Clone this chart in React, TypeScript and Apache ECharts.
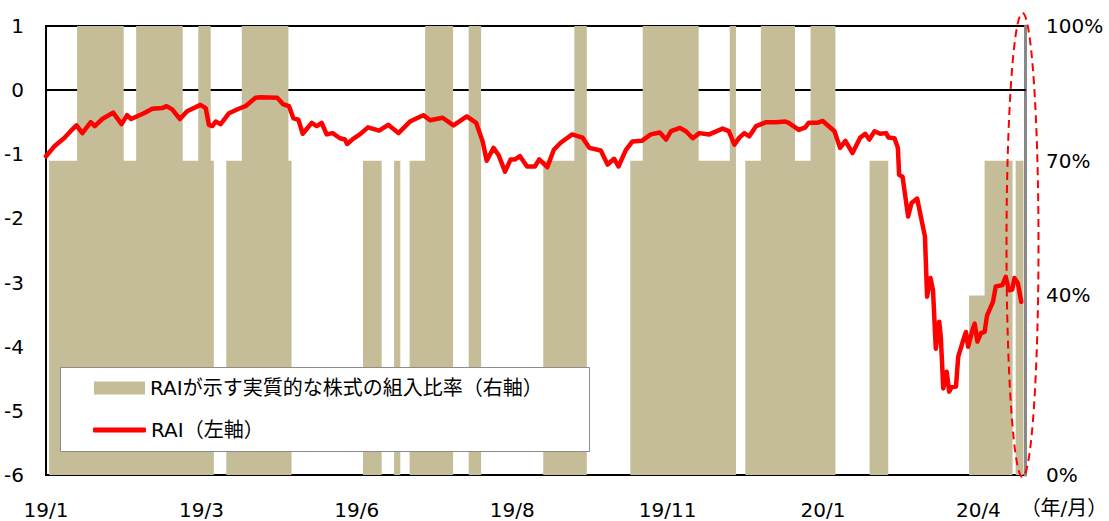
import React, { useEffect, useRef } from "react";
import * as echarts from "echarts";

// ---- Data ----
const xTickLabels = ["19/1", "19/3", "19/6", "19/8", "19/11", "20/1", "20/4"];
const xTickStep = 50; // business days between labels
const xMax = 315; // number of business days shown
const xUnitLabel = "（年/月）";

const leftMin = -6;
const leftMax = 1;
const rightTicks = [0, 40, 70, 100];

// stock allocation (%), right axis: value holds from each start index to the next
const allocStart = [0, 1, 10, 25, 29, 44, 49, 53, 54, 58, 63, 78, 79, 102, 108, 112, 114, 117, 122, 131, 136, 140, 160, 170, 174, 188, 192, 210, 220, 222, 225, 230, 241, 246, 254, 265, 271, 297, 302, 311, 312, 314.5];
const allocValue = [0, 70, 100, 70, 100, 70, 100, 70, 0, 70, 100, 70, 0, 70, 0, 70, 0, 70, 100, 0, 100, 0, 70, 100, 0, 70, 100, 70, 100, 0, 70, 100, 70, 100, 0, 70, 0, 40, 70, 0, 70, 0];

// RAI, left axis (x = business-day index)
const raiX = [0, 2.6, 5.8, 7.9, 9.8, 11.7, 14.4, 15.7, 18.1, 21.6, 24.3, 26.1, 27.4, 31.5, 34.2, 37.4, 38.8, 40.6, 43.1, 45.4, 49.7, 51.4, 52.4, 53.5, 54.6, 56.2, 58.9, 62.0, 64.2, 67.4, 69.1, 74.4, 76.3, 78.2, 79.6, 81.2, 82.6, 85.5, 87.1, 88.7, 90.3, 92.2, 94.6, 96.2, 96.9, 98.8, 101, 103.6, 107.2, 110.1, 113.4, 117.1, 121.4, 123.6, 127.6, 131.1, 135.4, 138.4, 140.5, 141.8, 144, 145.6, 147.7, 149.5, 150.9, 152.5, 154.8, 157.3, 158.7, 161.3, 163.4, 165.6, 169.3, 172.6, 174.8, 178.5, 180.7, 182.8, 184.2, 186.6, 188.7, 191.7, 194.6, 197.5, 199.5, 201.1, 204, 205.9, 208.1, 210.2, 213.4, 217.7, 219.7, 221.5, 223.1, 224.7, 226.3, 228.5, 231.7, 234.9, 237.9, 239, 242.2, 244.3, 245.4, 248.1, 249.9, 251.3, 253.7, 255.5, 257.2, 259.5, 262, 263.6, 264.9, 266.6, 268.4, 270.3, 271.1, 273, 274.1, 274.5, 275.6, 277.4, 278.5, 280.3, 281.7, 282.8, 283.5, 284.6, 285.4, 286.3, 287.4, 287.9, 288.7, 289.8, 290.6, 291.4, 292.8, 293.5, 295.1, 296, 296.7, 298.1, 298.8, 299.7, 300.8, 302, 302.8, 304.7, 305.6, 307.7, 308.8, 309.8, 310.9, 311.6, 312.7, 313.8];
const raiY = [-1.03, -0.88, -0.75, -0.64, -0.55, -0.67, -0.5, -0.56, -0.45, -0.35, -0.53, -0.39, -0.45, -0.36, -0.29, -0.28, -0.25, -0.3, -0.45, -0.33, -0.23, -0.28, -0.54, -0.56, -0.49, -0.53, -0.36, -0.29, -0.25, -0.12, -0.11, -0.12, -0.22, -0.25, -0.44, -0.46, -0.68, -0.51, -0.56, -0.51, -0.69, -0.67, -0.75, -0.77, -0.84, -0.76, -0.69, -0.58, -0.63, -0.54, -0.67, -0.49, -0.39, -0.47, -0.43, -0.55, -0.41, -0.51, -0.8, -1.1, -0.9, -1.01, -1.27, -1.08, -1.08, -1.03, -1.19, -1.19, -1.08, -1.2, -0.93, -0.82, -0.69, -0.74, -0.9, -0.94, -1.16, -1.07, -1.19, -0.93, -0.8, -0.79, -0.69, -0.66, -0.77, -0.64, -0.59, -0.64, -0.75, -0.67, -0.69, -0.6, -0.64, -0.85, -0.74, -0.67, -0.72, -0.56, -0.5, -0.5, -0.49, -0.51, -0.62, -0.58, -0.51, -0.51, -0.48, -0.54, -0.64, -0.9, -0.79, -0.98, -0.74, -0.68, -0.77, -0.64, -0.68, -0.67, -0.74, -0.75, -0.9, -1.32, -1.35, -1.97, -1.76, -1.69, -2.02, -2.28, -3.22, -2.93, -3.12, -4.03, -3.61, -3.84, -4.65, -4.39, -4.7, -4.63, -4.62, -4.16, -3.9, -3.77, -4.0, -3.74, -3.64, -3.92, -3.79, -3.77, -3.51, -3.3, -3.06, -3.04, -2.91, -3.12, -3.11, -2.93, -3.01, -3.3];

const allocName = "RAIが示す実質的な株式の組入比率（右軸）";
const raiName = "RAI（左軸）";

const TAN = "#C4BD97";
const RED = "#FF0000";
const FONT = "'DejaVu Sans', 'Noto Sans CJK JP', sans-serif";

export default function App() {
  const ref = useRef<HTMLDivElement>(null);

  useEffect(() => {
    if (!ref.current) return;
    const chart = echarts.init(ref.current, null, { renderer: "svg" });

    const allocData = allocStart.map((s, i) => [s, allocValue[i]]);
    allocData.push([xMax, allocValue[allocValue.length - 1]]);
    const raiData = raiX.map((x, i) => [x, raiY[i]]);

    const option: any = {
      animation: false,
      textStyle: { fontFamily: FONT, color: "#000" },
      grid: {
        left: 46,
        right: 84,
        top: 26,
        bottom: 46,
        show: true,
        borderColor: "#000",
        borderWidth: 2,
        backgroundColor: "transparent",
      },
      xAxis: {
        type: "value",
        min: 0,
        max: xMax,
        interval: xTickStep,
        axisLine: { show: true, lineStyle: { color: "#000", width: 2 } },
        axisTick: { show: false },
        splitLine: { show: false },
        axisLabel: {
          fontSize: 20,
          color: "#000",
          fontFamily: FONT,
          margin: 25,
          formatter: (v: number) => {
            const i = v / xTickStep;
            return Number.isInteger(i) && i < xTickLabels.length ? xTickLabels[i] : "";
          },
        },
      },
      yAxis: [
        {
          type: "value",
          min: leftMin,
          max: leftMax,
          interval: 1,
          position: "left",
          axisLine: { show: true, lineStyle: { color: "#000", width: 2 } },
          axisTick: { show: false },
          splitLine: { show: false },
          axisLabel: { fontSize: 20, color: "#000", fontFamily: FONT, margin: 22 },
        },
        {
          type: "value",
          min: 0,
          max: 100,
          interval: 10,
          position: "right",
          axisLine: { show: true, lineStyle: { color: "#888888", width: 3 } },
          axisTick: { show: false },
          splitLine: { show: false },
          axisLabel: {
            fontSize: 20,
            color: "#000",
            fontFamily: FONT,
            margin: 21,
            formatter: (v: number) => (rightTicks.includes(v) ? v + "%" : ""),
          },
        },
      ],
      legend: [
        {
          data: [{ name: allocName, icon: "rect" }],
          left: 94,
          top: 378,
          padding: 0,
          itemWidth: 51,
          itemHeight: 13,
          itemGap: 0,
          textStyle: { fontSize: 20, color: "#000", fontFamily: FONT },
          selectedMode: false,
          z: 5,
        },
        {
          data: [{ name: raiName, icon: "roundRect" }],
          left: 93,
          top: 420,
          padding: 0,
          itemWidth: 53,
          itemHeight: 5,
          itemGap: 0,
          textStyle: { fontSize: 20, color: "#000", fontFamily: FONT },
          selectedMode: false,
          z: 5,
        },
      ],
      graphic: [
        {
          type: "rect",
          z: 3,
          shape: { x: 60.5, y: 367.5, width: 529, height: 84 },
          style: { fill: "#fff", stroke: "#8c8c8c", lineWidth: 1 },
        },
        {
          type: "ellipse",
          z: 10,
          shape: { cx: 1022.5, cy: 245, rx: 16, ry: 232 },
          style: { fill: "none", stroke: RED, lineWidth: 2, lineDash: [8, 5] },
        },
        {
          type: "text",
          z: 10,
          x: 1064,
          y: 508,
          style: {
            text: xUnitLabel,
            fontSize: 20,
            fontFamily: FONT,
            fill: "#000",
            textAlign: "center",
            textVerticalAlign: "middle",
          },
        },
      ],
      series: [
        {
          name: allocName,
          type: "line",
          yAxisIndex: 1,
          step: "end",
          symbol: "none",
          showSymbol: false,
          color: TAN,
          itemStyle: { color: TAN },
          lineStyle: { width: 0, color: TAN },
          areaStyle: { color: TAN, opacity: 1 },
          data: allocData,
          z: 1,
        },
        {
          name: raiName,
          type: "line",
          yAxisIndex: 0,
          symbol: "none",
          showSymbol: false,
          color: RED,
          itemStyle: { color: RED },
          lineStyle: { width: 4.5, color: RED, join: "round", cap: "round" },
          data: raiData,
          z: 2,
        },
      ],
    };

    chart.setOption(option);
    return () => chart.dispose();
  }, []);

  return (
    <div
      ref={ref}
      style={{ position: "fixed", left: 0, top: 0, width: 1109, height: 521, background: "#fff" }}
    />
  );
}
